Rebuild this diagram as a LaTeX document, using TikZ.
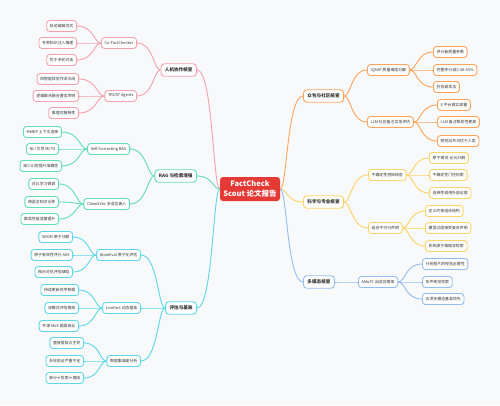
\documentclass[tikz,border=0pt]{standalone}
\usepackage{fontspec}
\setmainfont{Noto Sans CJK SC}
\usetikzlibrary{calc,backgrounds}
\definecolor{bgc}{HTML}{F8F9FB}
\definecolor{rootred}{HTML}{E53935}
\definecolor{cpink}{HTML}{F7A1AE}
\definecolor{cteal}{HTML}{62DDB5}
\definecolor{ccyan}{HTML}{5CD6EE}
\definecolor{corange}{HTML}{FFA35C}
\definecolor{cyellow}{HTML}{FFD466}
\definecolor{cblue}{HTML}{92BEF5}
\definecolor{txt}{HTML}{333333}
\tikzset{
  rootbox/.style={fill=rootred, rounded corners=3pt, text=white, align=center,
    font=\bfseries\fontsize{7.5}{9.5}\selectfont, minimum width=60pt, minimum height=24pt, inner sep=1pt},
  branchbox/.style={draw=#1, fill=white, line width=0.9pt, rounded corners=3.5pt, text=txt,
    font=\bfseries\fontsize{4.6}{5.5}\selectfont, inner xsep=4pt, inner ysep=0pt, minimum height=12.5pt},
  subbox/.style={draw=#1, fill=white, line width=0.9pt, rounded corners=3pt, text=txt,
    font=\fontsize{3.9}{4.5}\selectfont, inner xsep=3.2pt, inner ysep=0pt, minimum height=11pt},
  leafbox/.style={subbox=#1},
  conn/.style={draw=#1, line width=0.9pt}
}
\newcommand\lk[3]{\draw[conn=#1] let \p1=(#2), \p2=(#3) in (\p1) .. controls ({\x1+0.3*(\x2-\x1)},\y1) and ({\x1+0.3*(\x2-\x1)},\y2) .. (\p2);}
\begin{document}
\begin{tikzpicture}[x=1pt,y=-1pt]
\begin{pgfonlayer}{background}
\fill[bgc] (0,0) rectangle (500,405);
\end{pgfonlayer}
\useasboundingbox (0,0) rectangle (500,405);

% root
\node[rootbox] (root) at (250,189) {FactCheck\\Scout 论文报告};

% ---------- left: human-AI collaboration ----------
\node[branchbox=cpink, anchor=east] (hum) at (197,70) {人机协作核查};
\node[subbox=cpink, anchor=east] (cof) at (137,43) {Co-FactChecker};
\node[subbox=cpink, anchor=east] (tru) at (137,96) {TRUST Agents};
\node[leafbox=cpink, anchor=east] (cof1) at (77,26) {轨迹编辑范式};
\node[leafbox=cpink, anchor=east] (cof2) at (77,43) {专家知识注入推理};
\node[leafbox=cpink, anchor=east] (cof3) at (77,60) {优于多轮对话};
\node[leafbox=cpink, anchor=east] (tru1) at (79,79) {四智能体协作流水线};
\node[leafbox=cpink, anchor=east] (tru2) at (79,96) {逻辑聚合融合置信声明};
\node[leafbox=cpink, anchor=east] (tru3) at (79,113) {推理可解释性};

% ---------- left: RAG ----------
\node[branchbox=cteal, anchor=east] (rag) at (197,176) {RAG 与检索增强};
\node[subbox=cteal, anchor=east] (scr) at (130,149) {Self-Correcting RAG};
\node[subbox=cteal, anchor=east] (c2v) at (130,204) {Claim2Vec 多语言嵌入};
\node[leafbox=cteal, anchor=east] (scr1) at (62,132) {MMKP 上下文选择};
\node[leafbox=cteal, anchor=east] (scr2) at (59,149) {NLI 引导 MCTS};
\node[leafbox=cteal, anchor=east] (scr3) at (62,166) {减少幻觉提升准确性};
\node[leafbox=cteal, anchor=east] (c2v1) at (59,184) {对比学习微调};
\node[leafbox=cteal, anchor=east] (c2v2) at (59,202) {跨语言知识迁移};
\node[leafbox=cteal, anchor=east] (c2v3) at (59,219) {聚类性能显著提升};

% ---------- left: evaluation ----------
\node[branchbox=ccyan, anchor=east] (eva) at (197,308) {评估与基准};
\node[subbox=ccyan, anchor=east] (ato) at (141,255) {AtomEval 原子化评估};
\node[subbox=ccyan, anchor=east] (liv) at (141,308) {LiveFact 动态基准};
\node[subbox=ccyan, anchor=east] (bia) at (141,361) {数据集偏差分析};
\node[leafbox=ccyan, anchor=east] (ato1) at (73,237) {SROM 原子分解};
\node[leafbox=ccyan, anchor=east] (ato2) at (73,255) {原子有效性评分 AVS};
\node[leafbox=ccyan, anchor=east] (ato3) at (73,272) {揭示对抗评估缺陷};
\node[leafbox=ccyan, anchor=east] (liv1) at (79,290) {持续更新时序数据};
\node[leafbox=ccyan, anchor=east] (liv2) at (79,308) {双模式评估框架};
\node[leafbox=ccyan, anchor=east] (liv3) at (79,326) {开源 MoE 媲美商业};
\node[leafbox=ccyan, anchor=east] (bia1) at (84,343) {直接提取占主导};
\node[leafbox=ccyan, anchor=east] (bia2) at (84,361) {多轮验证严重不足};
\node[leafbox=ccyan, anchor=east] (bia3) at (84,378) {高分≠检索≠理由};

% ---------- right: crowd ----------
\node[branchbox=corange, anchor=west] (cro) at (303,96) {众包与社区核查};
\node[subbox=corange, anchor=west] (iqs) at (367,70) {IQSAP 质量维度分解};
\node[subbox=corange, anchor=west] (llm) at (367,122) {LLM 社区备注实地评估};
\node[leafbox=corange, anchor=west] (iqs1) at (433,52) {评分者质量参数};
\node[leafbox=corange, anchor=west] (iqs2) at (433,70) {完整评分减少28-40\%};
\node[leafbox=corange, anchor=west] (iqs3) at (433,87) {抗协调攻击};
\node[leafbox=corange, anchor=west] (llm1) at (437,105) {X 平台真实部署};
\node[leafbox=corange, anchor=west] (llm2) at (437,122) {LLM 备注帮助性更高};
\node[leafbox=corange, anchor=west] (llm3) at (437,141) {跨党派共识优于人类};

% ---------- right: science ----------
\node[branchbox=cyellow, anchor=west] (sci) at (303,202) {科学与专业核查};
\node[subbox=cyellow, anchor=west] (unc) at (368,175) {不确定性感知核查};
\node[subbox=cyellow, anchor=west] (com) at (368,228) {组合不可行声明};
\node[leafbox=cyellow, anchor=west] (unc1) at (429,158) {原子谓词-论元分解};
\node[leafbox=cyellow, anchor=west] (unc2) at (429,175) {不确定性门控检索};
\node[leafbox=cyellow, anchor=west] (unc3) at (429,193) {选择性调用外部证据};
\node[leafbox=cyellow, anchor=west] (com1) at (425,211) {定义约束组合结构};
\node[leafbox=cyellow, anchor=west] (com2) at (425,228) {模型过度接受复合声明};
\node[leafbox=cyellow, anchor=west] (com3) at (425,246) {系统源于推理非检索};

% ---------- right: multimodal ----------
\node[branchbox=cblue, anchor=west] (mm) at (303,282) {多模态核查};
\node[subbox=cblue, anchor=west] (amu) at (358,282) {AMuFC 自适应框架};
\node[leafbox=cblue, anchor=west] (amu1) at (422,264) {分析图片的视觉必要性};
\node[leafbox=cblue, anchor=west] (amu2) at (422,282) {条件视觉检索};
\node[leafbox=cblue, anchor=west] (amu3) at (422,299) {五项多模态基准领先};

% ---------- connectors (behind the boxes) ----------
\begin{pgfonlayer}{background}
\lk{cpink}{root.west}{hum.east}
\lk{cteal}{root.west}{rag.east}
\lk{ccyan}{root.west}{eva.east}
\lk{corange}{root.east}{cro.west}
\lk{cyellow}{root.east}{sci.west}
\lk{cblue}{root.east}{mm.west}
\lk{cpink}{hum.west}{cof.east}
\lk{cpink}{hum.west}{tru.east}
\lk{cteal}{rag.west}{scr.east}
\lk{cteal}{rag.west}{c2v.east}
\lk{ccyan}{eva.west}{ato.east}
\lk{ccyan}{eva.west}{liv.east}
\lk{ccyan}{eva.west}{bia.east}
\lk{corange}{cro.east}{iqs.west}
\lk{corange}{cro.east}{llm.west}
\lk{cyellow}{sci.east}{unc.west}
\lk{cyellow}{sci.east}{com.west}
\lk{cblue}{mm.east}{amu.west}
\lk{cpink}{cof.west}{cof1.east}
\lk{cpink}{cof.west}{cof2.east}
\lk{cpink}{cof.west}{cof3.east}
\lk{cpink}{tru.west}{tru1.east}
\lk{cpink}{tru.west}{tru2.east}
\lk{cpink}{tru.west}{tru3.east}
\lk{cteal}{scr.west}{scr1.east}
\lk{cteal}{scr.west}{scr2.east}
\lk{cteal}{scr.west}{scr3.east}
\lk{cteal}{c2v.west}{c2v1.east}
\lk{cteal}{c2v.west}{c2v2.east}
\lk{cteal}{c2v.west}{c2v3.east}
\lk{ccyan}{ato.west}{ato1.east}
\lk{ccyan}{ato.west}{ato2.east}
\lk{ccyan}{ato.west}{ato3.east}
\lk{ccyan}{liv.west}{liv1.east}
\lk{ccyan}{liv.west}{liv2.east}
\lk{ccyan}{liv.west}{liv3.east}
\lk{ccyan}{bia.west}{bia1.east}
\lk{ccyan}{bia.west}{bia2.east}
\lk{ccyan}{bia.west}{bia3.east}
\lk{corange}{iqs.east}{iqs1.west}
\lk{corange}{iqs.east}{iqs2.west}
\lk{corange}{iqs.east}{iqs3.west}
\lk{corange}{llm.east}{llm1.west}
\lk{corange}{llm.east}{llm2.west}
\lk{corange}{llm.east}{llm3.west}
\lk{cyellow}{unc.east}{unc1.west}
\lk{cyellow}{unc.east}{unc2.west}
\lk{cyellow}{unc.east}{unc3.west}
\lk{cyellow}{com.east}{com1.west}
\lk{cyellow}{com.east}{com2.west}
\lk{cyellow}{com.east}{com3.west}
\lk{cblue}{amu.east}{amu1.west}
\lk{cblue}{amu.east}{amu2.west}
\lk{cblue}{amu.east}{amu3.west}
\end{pgfonlayer}
\end{tikzpicture}
\end{document}
